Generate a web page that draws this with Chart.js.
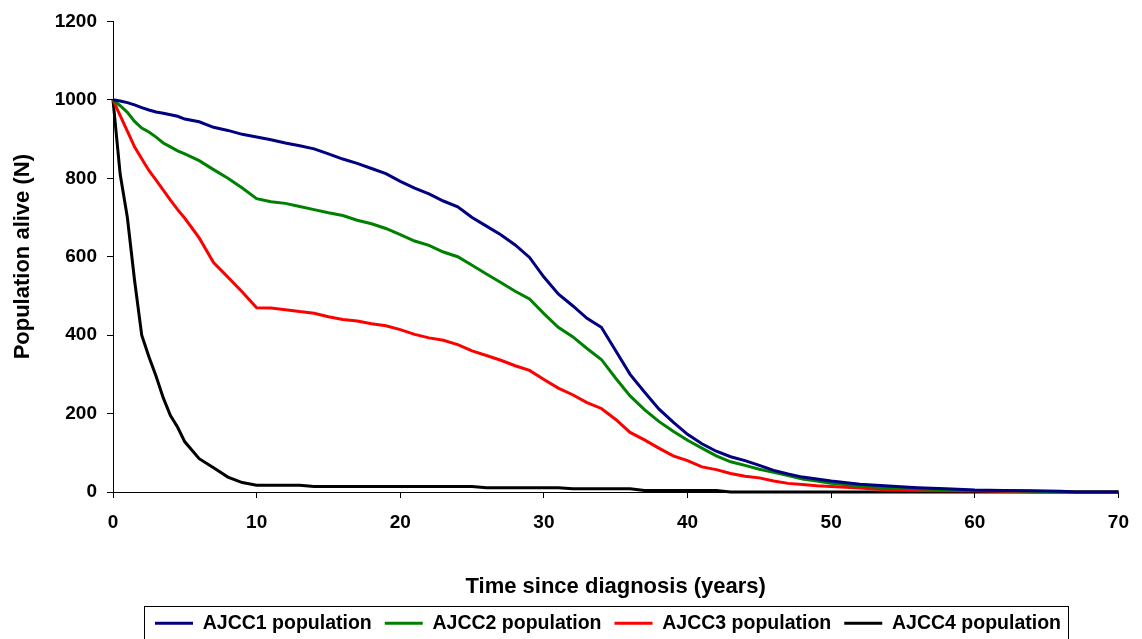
<!DOCTYPE html>
<html>
<head>
<meta charset="utf-8">
<script src="https://cdn.jsdelivr.net/npm/chart.js@4.4.1/dist/chart.umd.min.js"></script>
<style>
  html, body { margin: 0; padding: 0; background: #fff; }
  #wrap { width: 1142px; height: 639px; }
</style>
</head>
<body>
<div id="wrap"><canvas id="grafico"></canvas></div>
<script>
// years since diagnosis (shared x values)
const anios = [0,0.5,1,1.5,2,2.5,3,3.5,4,4.5,5,6,7,8,9,10,11,12,13,14,15,16,17,18,19,20,21,22,23,24,25,26,27,28,29,30,31,32,33,34,35,36,37,38,39,40,41,42,43,44,45,46,47,48,49,50,52,54,56,58,60,62,64,66,67,68,70];

const ajcc1 = [1000,997,993,987,980,974,969,966,962,958,951,944,930,922,912,905,898,890,883,875,862,849,838,825,812,792,775,760,742,727,700,678,656,630,598,548,505,475,443,420,360,300,255,212,178,147,123,104,90,80,68,55,46,38,33,28,20,15,11,8,5,4,3,2,0,0,0];
const ajcc2 = [1000,985,968,945,928,918,905,890,880,870,862,845,822,800,775,748,740,736,728,720,712,705,693,684,672,656,640,629,612,600,578,556,534,512,492,455,420,396,366,338,290,245,210,180,155,132,112,92,77,68,58,50,42,33,28,22,15,10,8,6,4,3,2,0,0,0,0];
const ajcc3 = [1000,960,920,880,850,820,795,770,744,720,698,648,585,548,510,470,469,465,460,456,447,440,436,429,424,414,402,393,387,376,360,348,336,322,310,287,265,248,228,213,185,152,133,112,92,80,64,57,47,40,36,28,22,19,16,14,10,5,4,3,3,2,0,0,0,0,0];
const ajcc4 = [1000,810,700,540,400,345,295,240,195,165,128,85,62,38,24,17,17,17,17,14,14,14,14,14,14,14,14,14,14,14,14,11,11,11,11,11,11,8,8,8,8,8,4,4,4,4,4,4,0,0,0,0,0,0,0,0,0,0,0,0,0,0,0,0,0,0,0];

const nombres = ["AJCC1 population","AJCC2 population","AJCC3 population","AJCC4 population"];
const colores = ["#000080","#008000","#ff0000","#000000"];
const series = [ajcc1, ajcc2, ajcc3, ajcc4];

const ticksY = [0,200,400,600,800,1000,1200];
const ticksX = [0,10,20,30,40,50,60,70];

const fuente = "'Liberation Sans', Arial, sans-serif";

// mueve la leyenda y dibuja la caja alrededor
const marcoLeyenda = {
  id: "marcoLeyenda",
  afterLayout(chart) {
    const ley = chart.legend;
    ley.left += 47; ley.right += 47;
    ley.top += 4; ley.bottom += 4;
  },
  afterDraw(chart) {
    const cajas = chart.legend.legendHitBoxes;
    if (!cajas || !cajas.length) return;
    const ctx = chart.ctx;
    const primera = cajas[0];
    const ultima = cajas[cajas.length - 1];
    const izq = primera.left - 11;
    const der = ultima.left + ultima.width + 7;
    const arriba = primera.top - 8;
    ctx.save();
    ctx.strokeStyle = "#000";
    ctx.lineWidth = 1;
    ctx.strokeRect(Math.round(izq) + 0.5, Math.round(arriba) + 0.5, Math.round(der - izq), 60);
    ctx.restore();
  }
};

const grafico = new Chart(document.getElementById("grafico"), {
  type: "line",
  data: {
    datasets: series.map((s, i) => ({
      label: nombres[i],
      data: s.map((v, j) => ({ x: anios[j], y: v })),
      borderColor: colores[i],
      backgroundColor: colores[i],
      borderWidth: 3,
      pointRadius: 0,
      tension: 0,
      clip: false
    }))
  },
  options: {
    responsive: true,
    maintainAspectRatio: false,
    animation: false,
    layout: { padding: { top: 20, right: 20, left: 0, bottom: 0 } },
    plugins: {
      tooltip: { enabled: false },
      legend: {
        position: "bottom",
        labels: {
          boxWidth: 38,
          boxHeight: 3,
          padding: 13,
          color: "#000",
          font: { family: fuente, size: 19.5, weight: "bold" },
          generateLabels: (chart) =>
            Chart.defaults.plugins.legend.labels.generateLabels(chart).map(l => ({ ...l, lineWidth: 0 }))
        }
      }
    },
    scales: {
      x: {
        type: "linear",
        min: 0,
        max: 70,
        afterBuildTicks: (scale) => { scale.ticks = ticksX.map(v => ({ value: v })); },
        ticks: {
          color: "#000",
          padding: 13,
          maxRotation: 0,
          callback: (v) => String(v),
          font: { family: fuente, size: 19, weight: "bold" }
        },
        grid: { display: true, drawOnChartArea: false, drawTicks: true, tickLength: 6, color: "#000" },
        border: { display: true, color: "#000", width: 1 },
        title: {
          display: true,
          text: "Time since diagnosis (years)",
          color: "#000",
          padding: { top: 0, bottom: -4 },
          font: { family: fuente, size: 22, weight: "bold" }
        },
        afterFit: (scale) => { scale.height = 104.5; }
      },
      y: {
        min: 0,
        max: 1200,
        afterBuildTicks: (scale) => { scale.ticks = ticksY.map(v => ({ value: v })); },
        ticks: {
          color: "#000",
          padding: 10,
          callback: (v) => String(v),
          font: { family: fuente, size: 19, weight: "bold" }
        },
        grid: { display: true, drawOnChartArea: false, drawTicks: true, tickLength: 6, color: "#000" },
        border: { display: true, color: "#000", width: 1 },
        title: {
          display: true,
          text: "Population alive (N)",
          color: "#000",
          padding: { top: 10, bottom: 0 },
          font: { family: fuente, size: 22, weight: "bold" }
        },
        afterFit: (scale) => { scale.width = 113; }
      }
    }
  },
  plugins: [marcoLeyenda]
});
</script>
</body>
</html>
